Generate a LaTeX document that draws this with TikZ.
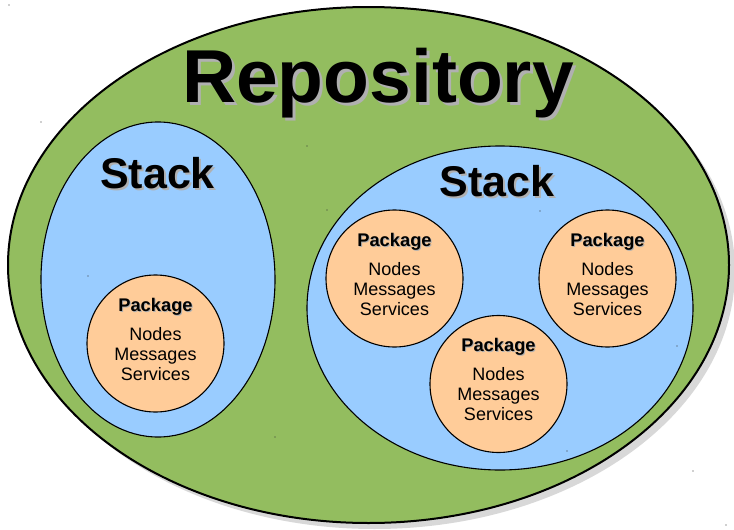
\documentclass[tikz,border=0pt]{standalone}
\usepackage{fontspec}
\setmainfont{Liberation Sans}
\usetikzlibrary{shapes.geometric,calc}
\definecolor{repogreen}{HTML}{93BD5F}
\definecolor{stackblue}{HTML}{99CCFF}
\definecolor{pkgorange}{HTML}{FFCC99}
\definecolor{shadowgray}{HTML}{D8D8D8}
\definecolor{textshade}{HTML}{B0B0B0}
% text with a grey drop shadow, offset #1 right and down
\newcommand{\shadtext}[2]{\makebox[0pt][l]{\hspace*{#1}\raisebox{-#1}{\textcolor{textshade}{#2}}}#2}
\tikzset{
  reposhape/.style={ellipse, draw=black, line width=2pt, fill=repogreen,
    inner sep=0pt, minimum width=721pt, minimum height=516pt},
  stackshape/.style={ellipse, draw=black, line width=1.1pt, fill=stackblue,
    inner sep=0pt},
  pkgshape/.style={circle, draw=black, line width=1.1pt, fill=pkgorange,
    inner sep=0pt, minimum size=137pt},
  bigtitle/.style={anchor=base, inner sep=0pt, font=\bfseries\fontsize{75}{80}\selectfont},
  stacktitle/.style={anchor=base, inner sep=0pt, font=\bfseries\fontsize{43}{48}\selectfont},
  pkgtitle/.style={anchor=base, inner sep=0pt, font=\bfseries\fontsize{18.3}{20}\selectfont},
  pkgitem/.style={anchor=base, inner sep=0pt, font=\fontsize{18}{20}\selectfont},
  speck/.style={fill=black!80}
}
\begin{document}
\begin{tikzpicture}[x=1pt,y=-1pt]
\useasboundingbox (0,0) rectangle (734,530);
% drop shadow of the repository
\fill[shadowgray] (374.5,271) ellipse [x radius=360.5, y radius=258];
\node[reposhape] (repo) at (368.5,265) {};
% stacks
\node[stackshape, minimum width=234pt, minimum height=315pt] (stackL) at (158,279.5) {};
\node[stackshape, minimum width=386pt, minimum height=324pt] (stackR) at (500,308) {};
% packages
\node[pkgshape] (pa) at (155.5,343.5) {};
\node[pkgshape] (pb) at (394.5,278.5) {};
\node[pkgshape] (pc) at (607.5,278.5) {};
\node[pkgshape] (pd) at (498.5,384) {};
% titles
\node[bigtitle] (repotitle) at (378,102) {\shadtext{3pt}{Repository}};
\node[stacktitle] (stackLtitle) at (157.5,188) {\shadtext{2pt}{Stack}};
\node[stacktitle] (stackRtitle) at (497,196) {\shadtext{2pt}{Stack}};
% package contents
\foreach \p in {pa,pb,pc,pd} {
  \node[pkgtitle] (\p-title) at ($(\p)+(0,-32.5)$) {\shadtext{1pt}{Package}};
  \node[pkgitem] (\p-nodes) at ($(\p)+(0,-3.5)$) {Nodes};
  \node[pkgitem] (\p-msgs) at ($(\p)+(0,16.5)$) {Messages};
  \node[pkgitem] (\p-srvs) at ($(\p)+(0,36.5)$) {Services};
}
% tiny selection specks
\foreach \q in {(9,5),(41,122),(88,276),(275,437),(307,146),(327,210),(540,211),(677,346),(567,451),(693,471),(726,525)}
  \fill[speck] \q circle (0.7);
\end{tikzpicture}
\end{document}
